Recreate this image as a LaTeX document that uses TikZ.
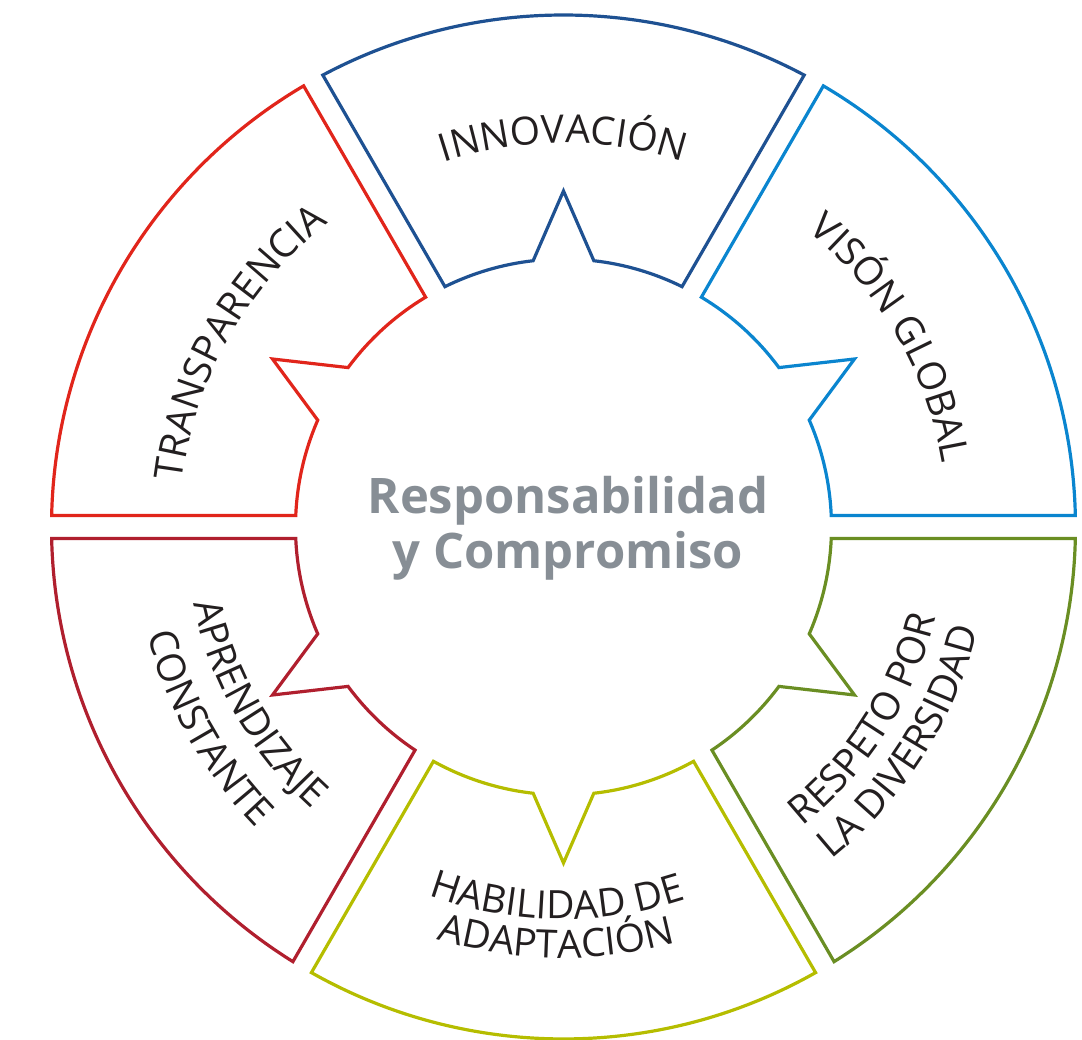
\documentclass[tikz,border=0pt]{standalone}
\usepackage{fontspec}
\usepackage{xcolor}
\usepackage{tikz}
\usetikzlibrary{decorations.text}
\setmainfont{Open Sans}
\newfontfamily\labelfont{Open Sans}
\newcommand\lblfont{\labelfont\fontsize{39}{44}\selectfont}
\definecolor{azuloscuro}{HTML}{1E5192}
\definecolor{azulclaro}{HTML}{0A85CF}
\definecolor{rojo}{HTML}{E1251B}
\definecolor{granate}{HTML}{B01F2E}
\definecolor{lima}{HTML}{B5BD00}
\definecolor{oliva}{HTML}{6A8E23}
\definecolor{textogris}{HTML}{231F20}
\definecolor{centrogris}{HTML}{878E95}

\begin{document}
\begin{tikzpicture}[x=1pt,y=1pt,
        segmento/.style={line width=3.2pt},
        etiqueta/.style={decorate, decoration={text along path, text align=center, text color=textogris}}]
    \useasboundingbox (-563.5,-513) rectangle (518.5,527);
    % segmentos
    \draw [segmento, azulclaro] (2.459:268) -- (1.287:512) arc [start angle=1.287, end angle=59.496, radius=512]
        -- (59.038:268) arc [start angle=59.038, end angle=36.5, radius=268] -- (30:336)
        -- (23.5:268) arc [start angle=23.5, end angle=2.459, radius=268] -- cycle;
    \draw [segmento, azuloscuro] (63.743:268) -- (61.959:512) arc [start angle=61.959, end angle=118.041, radius=512]
        -- (116.257:268) arc [start angle=116.257, end angle=96.5, radius=268] -- (90:336)
        -- (83.5:268) arc [start angle=83.5, end angle=63.743, radius=268] -- cycle;
    \draw [segmento, rojo] (120.962:268) -- (120.504:512) arc [start angle=120.504, end angle=178.713, radius=512]
        -- (177.541:268) arc [start angle=177.541, end angle=156.5, radius=268] -- (150:336)
        -- (143.5:268) arc [start angle=143.5, end angle=120.962, radius=268] -- cycle;
    \draw [segmento, granate] (182.459:268) -- (181.287:512) arc [start angle=181.287, end angle=238.097, radius=512]
        -- (236.364:268) arc [start angle=236.364, end angle=216.5, radius=268] -- (210:336)
        -- (203.5:268) arc [start angle=203.5, end angle=182.459, radius=268] -- cycle;
    \draw [segmento, lima] (240.962:268) -- (240.504:512) arc [start angle=240.504, end angle=299.496, radius=512]
        -- (299.038:268) arc [start angle=299.038, end angle=276.5, radius=268] -- (270:336)
        -- (263.5:268) arc [start angle=263.5, end angle=240.962, radius=268] -- cycle;
    \draw [segmento, oliva] (303.636:268) -- (301.903:512) arc [start angle=301.903, end angle=358.713, radius=512]
        -- (357.541:268) arc [start angle=357.541, end angle=336.5, radius=268] -- (330:336)
        -- (323.5:268) arc [start angle=323.5, end angle=303.636, radius=268] -- cycle;
    % textos
    \path [etiqueta, decoration={text={|\lblfont|INNOVACIÓN}}] (130:384) arc [start angle=130, end angle=50, radius=384];
    \path [etiqueta, decoration={text={|\lblfont|VISÓN GLOBAL}}] (70:384) arc [start angle=70, end angle=-10, radius=384];
    \path [etiqueta, decoration={text={|\lblfont|TRANSPARENCIA}}] (190.5:384) arc [start angle=190.5, end angle=110.5, radius=384];
    \path [etiqueta, decoration={text={|\lblfont|APRENDIZAJE}}] (170:378) arc [start angle=170, end angle=250, radius=378];
    \path [etiqueta, decoration={text={|\lblfont|CONSTANTE}}] (169.5:430) arc [start angle=169.5, end angle=249.5, radius=430];
    \path [etiqueta, decoration={text={|\lblfont|HABILIDAD DE}}] (229:392) arc [start angle=229, end angle=309, radius=392];
    \path [etiqueta, decoration={text={|\lblfont|ADAPTACIÓN}}] (229:431) arc [start angle=229, end angle=309, radius=431];
    \path [etiqueta, decoration={text={|\lblfont|RESPETO POR}}] (287.5:383) arc [start angle=287.5, end angle=367.5, radius=383];
    \path [etiqueta, decoration={text={|\lblfont|LA DIVERSIDAD}}] (287.5:427) arc [start angle=287.5, end angle=367.5, radius=427];
    \node (centro) [inner sep=0, align=center, text=centrogris, font=\bfseries\fontsize{49}{55}\selectfont] at (4.5,-1)
        {Responsabilidad\\y Compromiso};
\end{tikzpicture}
\end{document}
